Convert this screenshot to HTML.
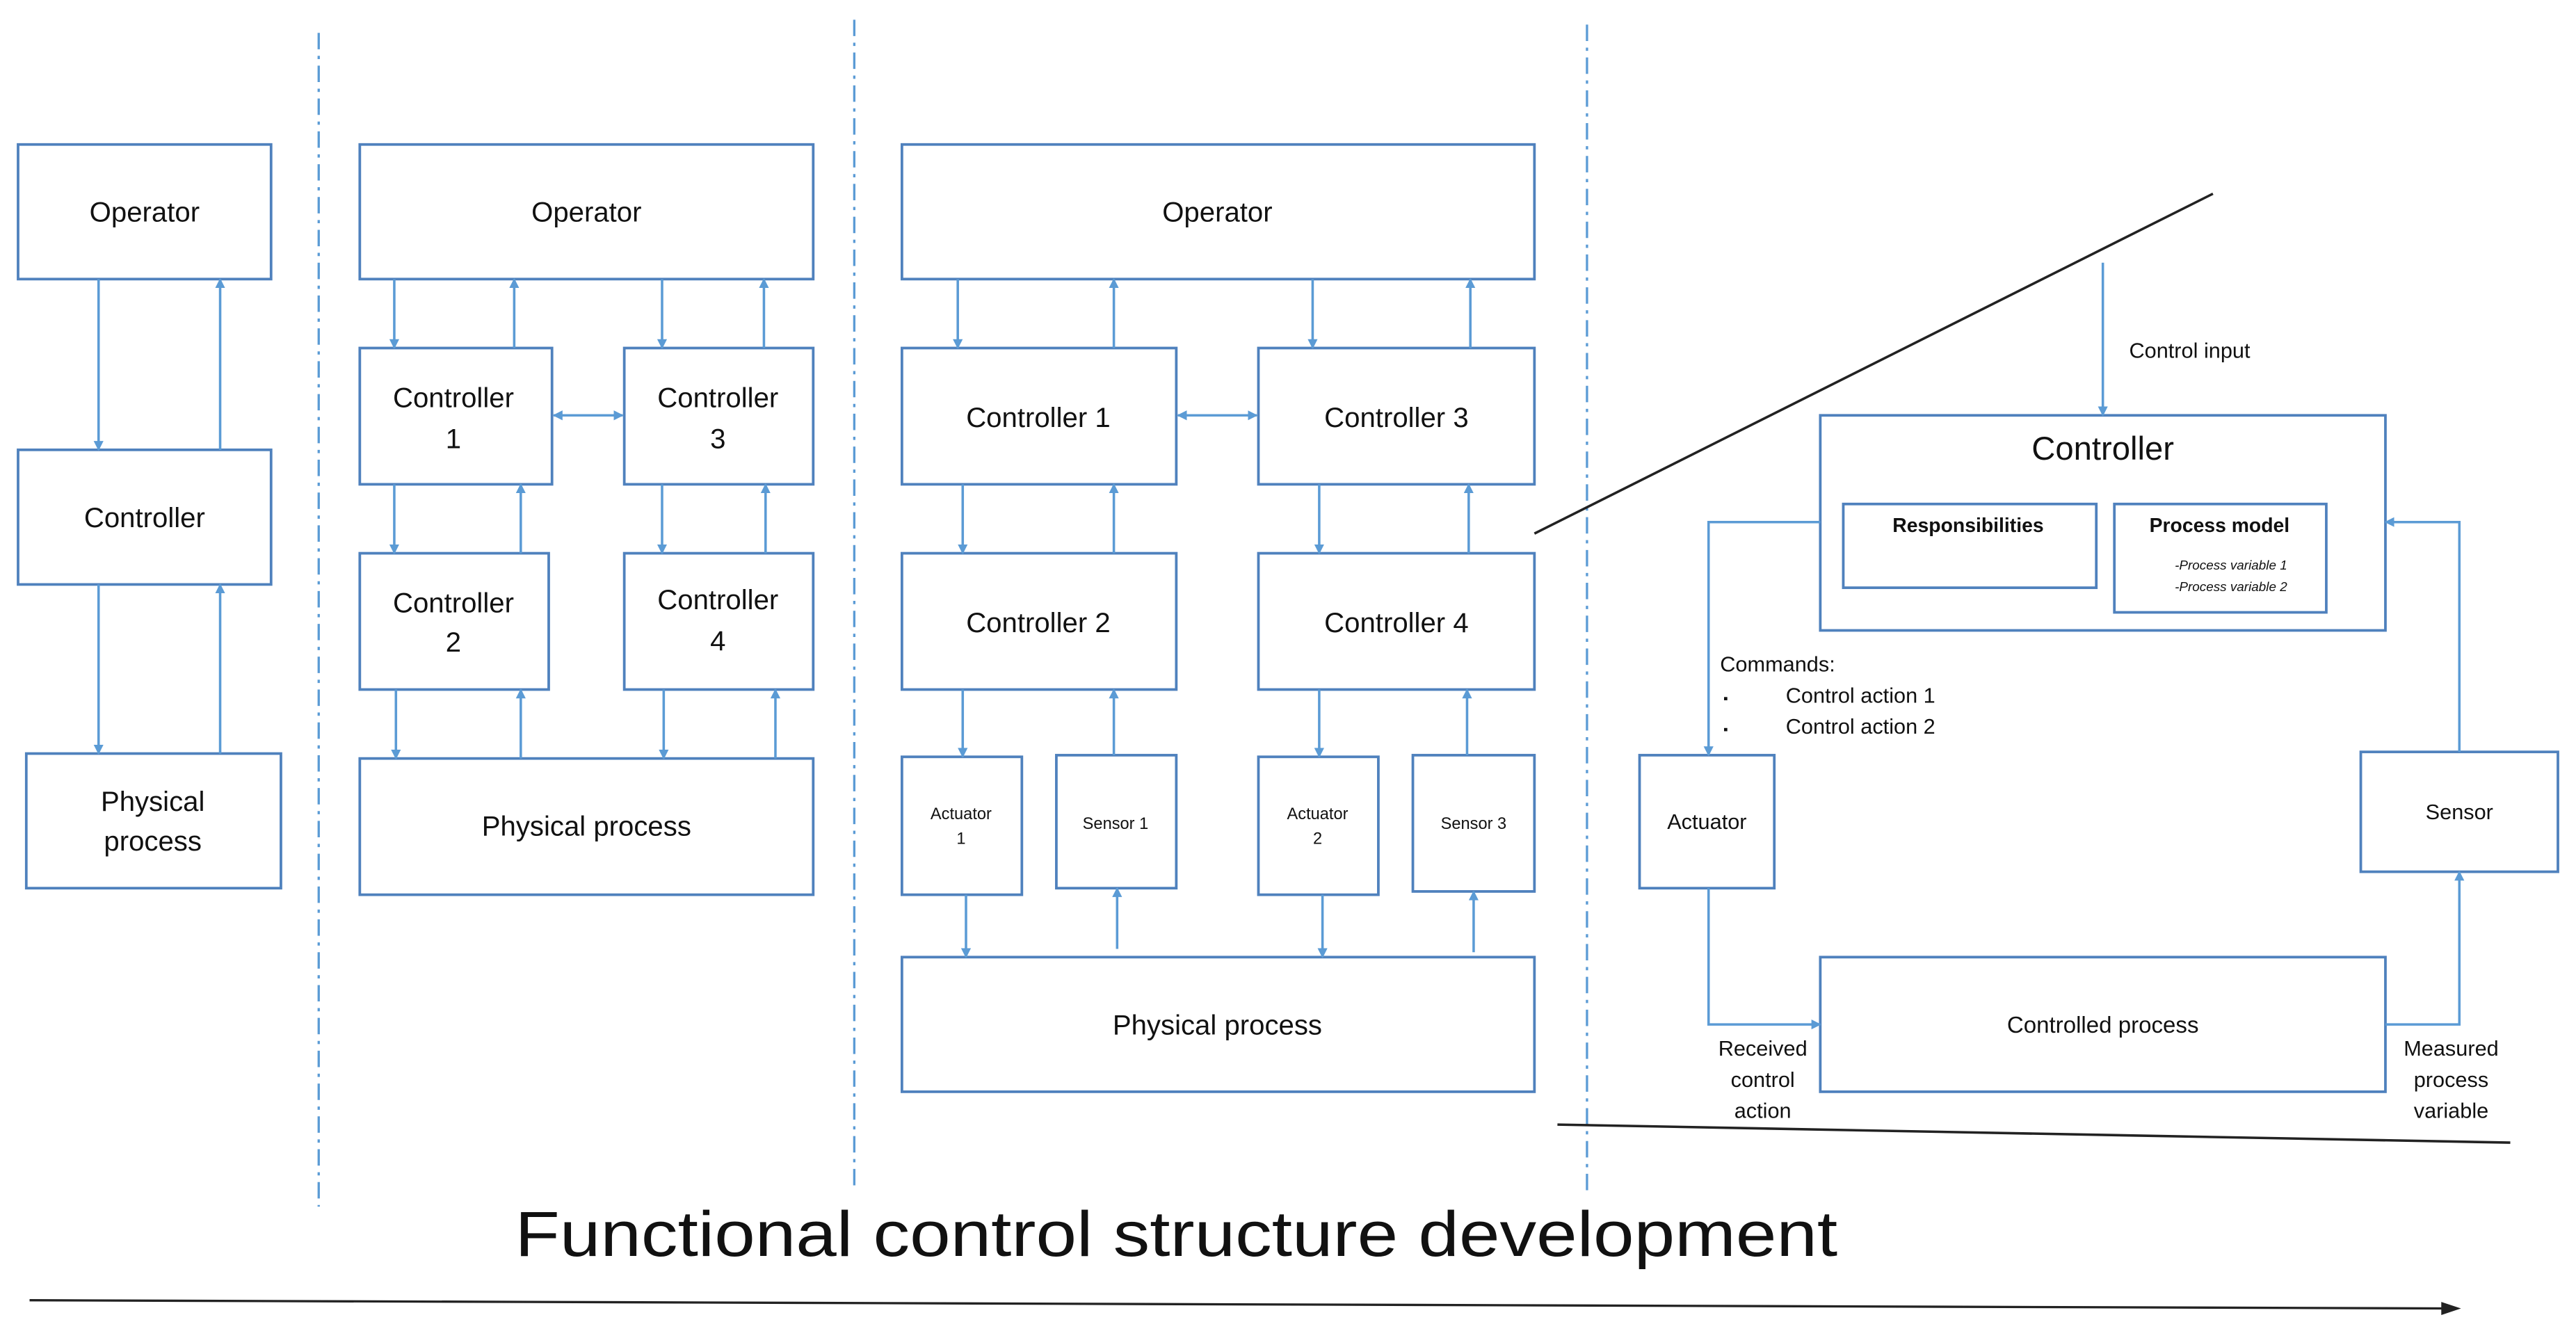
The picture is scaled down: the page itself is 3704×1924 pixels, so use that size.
<!DOCTYPE html>
<html><head><meta charset="utf-8"><style>
html,body{margin:0;padding:0;background:#fff;}
svg{display:block;}
text{font-family:"Liberation Sans",sans-serif;fill:#111;}
</style></head><body>
<svg width="3704" height="1924" viewBox="0 0 1568 815" preserveAspectRatio="none" xmlns="http://www.w3.org/2000/svg">
<defs>
<marker id="a" viewBox="0 0 10 10" refX="9" refY="5" markerWidth="4" markerHeight="4" orient="auto-start-reverse"><path d="M0,0 L10,5 L0,10 z" fill="#5b9bd5"/></marker>
</defs>
<g fill="none" stroke="#4f81bd" stroke-width="1.6">
<rect x="11" y="88" width="154" height="82"/>
<rect x="11" y="274" width="154" height="82"/>
<rect x="16" y="459" width="155" height="82"/>
<rect x="219" y="88" width="276" height="82"/>
<rect x="219" y="212" width="117" height="83"/>
<rect x="380" y="212" width="115" height="83"/>
<rect x="219" y="337" width="115" height="83"/>
<rect x="380" y="337" width="115" height="83"/>
<rect x="219" y="462" width="276" height="83"/>
<rect x="549" y="88" width="385" height="82"/>
<rect x="549" y="212" width="167" height="83"/>
<rect x="766" y="212" width="168" height="83"/>
<rect x="549" y="337" width="167" height="83"/>
<rect x="766" y="337" width="168" height="83"/>
<rect x="549" y="461" width="73" height="84"/>
<rect x="643" y="460" width="73" height="81"/>
<rect x="766" y="461" width="73" height="84"/>
<rect x="860" y="460" width="74" height="83"/>
<rect x="549" y="583" width="385" height="82"/>
<rect x="1108" y="253" width="344" height="131"/>
<rect x="1122" y="307" width="154" height="51"/>
<rect x="1287" y="307" width="129" height="66"/>
<rect x="998" y="460" width="82" height="81"/>
<rect x="1437" y="458" width="120" height="73"/>
<rect x="1108" y="583" width="344" height="82"/>
</g>
<g stroke="#5b9bd5" stroke-width="1.4" fill="none" stroke-dasharray="10,4,2,4">
<line x1="194" y1="20" x2="194" y2="735"/>
<line x1="520" y1="12" x2="520" y2="725"/>
<line x1="966" y1="15" x2="966" y2="725"/>
</g>
<g stroke="#5b9bd5" stroke-width="1.5" fill="none" marker-end="url(#a)">
<line x1="60" y1="170" x2="60" y2="274"/><line x1="134" y1="274" x2="134" y2="170"/>
<line x1="60" y1="356" x2="60" y2="459"/><line x1="134" y1="459" x2="134" y2="356"/>
<line x1="240" y1="170" x2="240" y2="212"/><line x1="313" y1="212" x2="313" y2="170"/>
<line x1="403" y1="170" x2="403" y2="212"/><line x1="465" y1="212" x2="465" y2="170"/>
<line x1="337" y1="253" x2="379" y2="253" marker-start="url(#a)"/>
<line x1="240" y1="295" x2="240" y2="337"/><line x1="317" y1="337" x2="317" y2="295"/>
<line x1="403" y1="295" x2="403" y2="337"/><line x1="466" y1="337" x2="466" y2="295"/>
<line x1="241" y1="420" x2="241" y2="462"/><line x1="317" y1="462" x2="317" y2="420"/>
<line x1="404" y1="420" x2="404" y2="462"/><line x1="472" y1="462" x2="472" y2="420"/>
<line x1="583" y1="170" x2="583" y2="212"/><line x1="678" y1="212" x2="678" y2="170"/>
<line x1="799" y1="170" x2="799" y2="212"/><line x1="895" y1="212" x2="895" y2="170"/>
<line x1="717" y1="253" x2="765" y2="253" marker-start="url(#a)"/>
<line x1="586" y1="295" x2="586" y2="337"/><line x1="678" y1="337" x2="678" y2="295"/>
<line x1="803" y1="295" x2="803" y2="337"/><line x1="894" y1="337" x2="894" y2="295"/>
<line x1="586" y1="420" x2="586" y2="461"/><line x1="678" y1="460" x2="678" y2="420"/>
<line x1="803" y1="420" x2="803" y2="461"/><line x1="893" y1="460" x2="893" y2="420"/>
<line x1="588" y1="545" x2="588" y2="583"/><line x1="680" y1="578" x2="680" y2="541"/>
<line x1="805" y1="545" x2="805" y2="583"/><line x1="897" y1="580" x2="897" y2="543"/>
<line x1="1280" y1="160" x2="1280" y2="253"/>
<polyline points="1108,318 1040,318 1040,460"/>
<polyline points="1497,458 1497,318 1452,318"/>
<polyline points="1040,541 1040,624 1108,624"/>
<polyline points="1452,624 1497,624 1497,531"/>
</g>
<g stroke="#222" stroke-width="1.5">
<line x1="934" y1="325" x2="1347" y2="118"/>
<line x1="948" y1="685" x2="1528" y2="696"/>
</g>
<line x1="18" y1="792" x2="1490" y2="797" stroke="#222" stroke-width="1.4"/>
<path d="M1498,797 L1486,793 L1486,801 z" fill="#222"/>
<g font-size="17" text-anchor="middle">
<text x="88" y="135">Operator</text>
<text x="88" y="321">Controller</text>
<text x="93" y="494">Physical</text><text x="93" y="518">process</text>
<text x="357" y="135">Operator</text>
<text x="276" y="248">Controller</text><text x="276" y="273">1</text>
<text x="437" y="248">Controller</text><text x="437" y="273">3</text>
<text x="276" y="373">Controller</text><text x="276" y="397">2</text>
<text x="437" y="371">Controller</text><text x="437" y="396">4</text>
<text x="357" y="509">Physical process</text>
<text x="741" y="135">Operator</text>
<text x="632" y="260">Controller 1</text>
<text x="850" y="260">Controller 3</text>
<text x="632" y="385">Controller 2</text>
<text x="850" y="385">Controller 4</text>
<text x="741" y="630">Physical process</text>
<text x="1280" y="280" font-size="20">Controller</text>
</g>
<g font-size="10" text-anchor="middle" fill="#333">
<text x="585" y="499">Actuator</text><text x="585" y="514">1</text>
<text x="679" y="505">Sensor 1</text>
<text x="802" y="499">Actuator</text><text x="802" y="514">2</text>
<text x="897" y="505">Sensor 3</text>
</g>
<g font-size="13" fill="#333">
<text x="1039" y="505" text-anchor="middle">Actuator</text>
<text x="1497" y="499" text-anchor="middle">Sensor</text>
<text x="1280" y="629" text-anchor="middle" font-size="14">Controlled process</text>
<text x="1296" y="218">Control input</text>
<text x="1047" y="409">Commands:</text>
<text x="1049" y="428" font-size="8" fill="#aaa">▪</text><text x="1087" y="428">Control action 1</text>
<text x="1049" y="447" font-size="8" fill="#aaa">▪</text><text x="1087" y="447">Control action 2</text>
<text x="1073" y="643" text-anchor="middle">Received</text>
<text x="1073" y="662" text-anchor="middle">control</text>
<text x="1073" y="681" text-anchor="middle">action</text>
<text x="1492" y="643" text-anchor="middle">Measured</text>
<text x="1492" y="662" text-anchor="middle">process</text>
<text x="1492" y="681" text-anchor="middle">variable</text>
</g>
<text x="1198" y="324" font-size="12" font-weight="bold" text-anchor="middle">Responsibilities</text>
<text x="1351" y="324" font-size="12" font-weight="bold" text-anchor="middle">Process model</text>
<text x="1358" y="347" font-size="8" font-style="italic" text-anchor="middle" fill="#444">-Process variable 1</text>
<text x="1358" y="360" font-size="8" font-style="italic" text-anchor="middle" fill="#444">-Process variable 2</text>
<text x="716" y="765" font-size="39" text-anchor="middle" textLength="805" lengthAdjust="spacingAndGlyphs">Functional control structure development</text>
</svg>
</body></html>
